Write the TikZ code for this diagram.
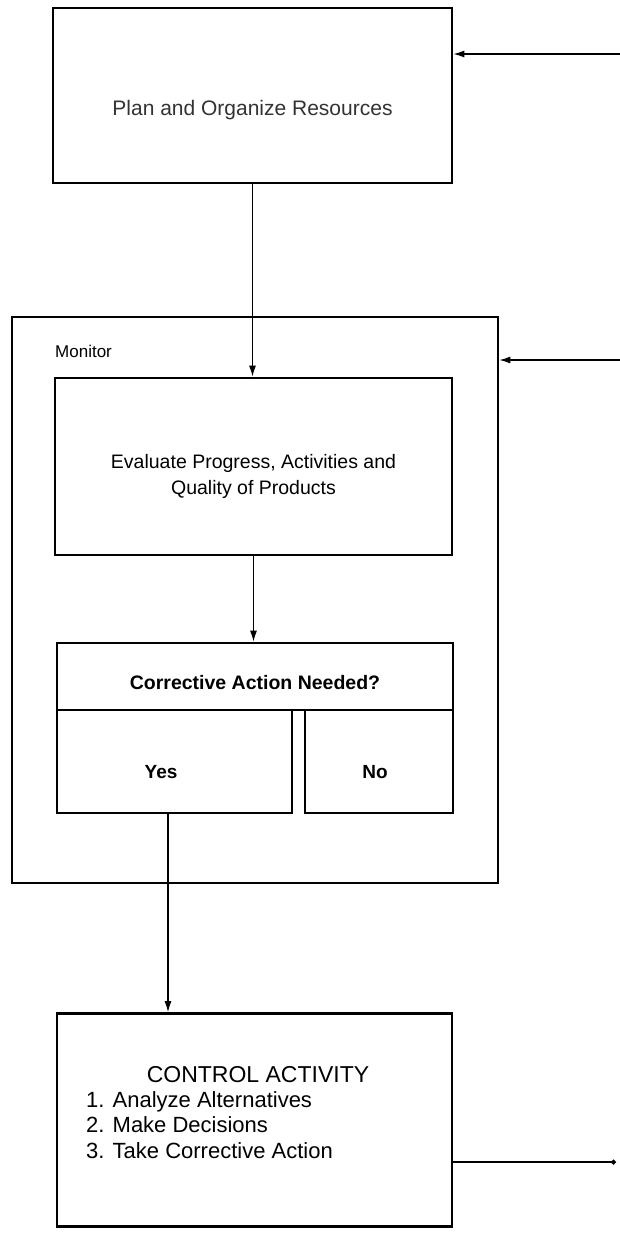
\documentclass[tikz,border=0pt]{standalone}
\usepackage{fontspec}
\setmainfont{Liberation Sans}
\usetikzlibrary{arrows.meta}
\begin{document}
\begin{tikzpicture}[x=1pt,y=-1pt,
  box/.style={draw, line width=2.7pt, rectangle, inner sep=0pt},
  conn/.style={line width=1.2pt},
  tip/.style={-{Latex[length=11pt,width=7pt]}},
  lbl/.style={inner sep=0pt, anchor=center, align=center},
]
\useasboundingbox[fill=white] (0,0) rectangle (620,1234);

% planning stage
\node[box, minimum width=399pt, minimum height=175pt] (plan) at (252.5,95.5) {};
\node[lbl, text=black!80, font=\fontsize{21}{23}\selectfont] (plantext) at (252.5,110) {Plan and Organize Resources};

% monitoring stage
\node[box, minimum width=486pt, minimum height=566pt] (monitor) at (255,600) {};
\node[lbl, anchor=west, font=\fontsize{17}{19}\selectfont] (montext) at (55,351) {Monitor};

\node[box, minimum width=397pt, minimum height=177pt] (evaluate) at (253.5,466.5) {};
\node[lbl, font=\fontsize{19.5}{26}\selectfont] (evaltext) at (253.5,476) {Evaluate Progress, Activities and\\Quality of Products};

% decision
\node[box, minimum width=396pt, minimum height=67pt] (dechead) at (255,676.5) {};
\node[lbl, font=\bfseries\fontsize{19.5}{21}\selectfont] (dectext) at (255,683) {Corrective Action Needed?};
\node[box, minimum width=235pt, minimum height=103pt] (yes) at (174.5,761.5) {};
\node[box, minimum width=148pt, minimum height=103pt] (no) at (379,761.5) {};
\node[lbl, font=\bfseries\fontsize{19}{21}\selectfont] (yestext) at (161,772) {Yes};
\node[lbl, font=\bfseries\fontsize{19}{21}\selectfont] (notext) at (375,772) {No};

% control stage
\node[box, minimum width=395pt, minimum height=213pt] (control) at (254.5,1120) {};
\node[lbl, font=\fontsize{23}{25}\selectfont] (ctltitle) at (258,1075) {CONTROL ACTIVITY};
\node[inner sep=0pt, anchor=north west, align=left, font=\fontsize{22}{25.5}\selectfont] (ctllist) at (86,1091)
  {1. Analyze Alternatives\\2. Make Decisions\\3. Take Corrective Action};

% connectors
\draw[conn, tip] (plan.south) -- (plan.south |- evaluate.north);
\draw[conn, tip] (evaluate.south) -- (evaluate.south |- dechead.north);
\draw[conn, tip] ([xshift=-6.5pt]yes.south) -- ([xshift=-6.5pt]yes.south |- control.north);

% feedback lines entering from the right
\coordinate (fbplan) at (620,54);
\coordinate (fbmon) at (620,360);
\coordinate (fbctl) at (616,1162);
\draw[conn, tip] (fbplan) -- (fbplan -| plan.east);
\draw[conn, tip] (fbmon) -- (fbmon -| monitor.east);
\draw[conn, -{Circle[length=5pt]}] (control.east |- fbctl) -- (fbctl);
\end{tikzpicture}
\end{document}
